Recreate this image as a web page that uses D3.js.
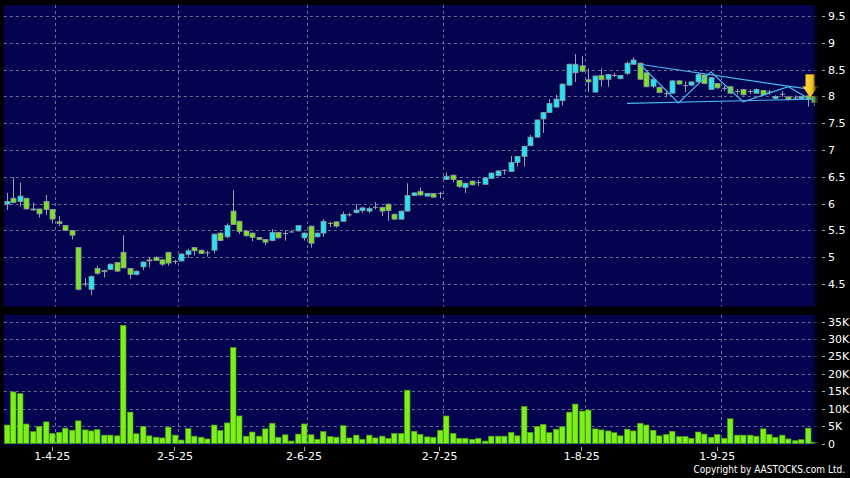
<!DOCTYPE html>
<html><head><meta charset="utf-8">
<script src="https://cdn.jsdelivr.net/npm/d3@7"></script>
<style>body{margin:0;background:#000;overflow:hidden}svg{display:block}</style>
</head><body>
<svg id="chart" width="850" height="478"></svg>
<script>
const dates = [
"21-3-25","24-3-25","25-3-25","26-3-25","27-3-25","28-3-25","31-3-25",
"1-4-25","2-4-25","3-4-25","7-4-25","8-4-25","9-4-25","10-4-25","11-4-25","14-4-25","15-4-25","16-4-25","17-4-25","22-4-25","23-4-25","24-4-25","25-4-25","28-4-25","29-4-25","30-4-25",
"2-5-25","6-5-25","7-5-25","8-5-25","9-5-25","12-5-25","13-5-25","14-5-25","15-5-25","16-5-25","19-5-25","20-5-25","21-5-25","22-5-25","23-5-25","26-5-25","27-5-25","28-5-25","29-5-25","30-5-25",
"2-6-25","3-6-25","4-6-25","5-6-25","6-6-25","9-6-25","10-6-25","11-6-25","12-6-25","13-6-25","16-6-25","17-6-25","18-6-25","19-6-25","20-6-25","23-6-25","24-6-25","25-6-25","26-6-25","27-6-25","30-6-25",
"2-7-25","3-7-25","4-7-25","7-7-25","8-7-25","9-7-25","10-7-25","11-7-25","14-7-25","15-7-25","16-7-25","17-7-25","18-7-25","21-7-25","22-7-25","23-7-25","24-7-25","25-7-25","28-7-25","29-7-25","30-7-25","31-7-25",
"1-8-25","4-8-25","5-8-25","6-8-25","7-8-25","8-8-25","11-8-25","12-8-25","13-8-25","14-8-25","15-8-25","18-8-25","19-8-25","20-8-25","21-8-25","22-8-25","25-8-25","26-8-25","27-8-25","28-8-25","29-8-25",
"1-9-25","2-9-25","3-9-25","4-9-25","5-9-25","8-9-25","9-9-25","10-9-25","11-9-25","12-9-25","15-9-25","16-9-25","17-9-25","18-9-25","19-9-25","22-9-25"
];
const open = [
5.99,6.10,6.04,6.10,5.88,5.90,6.04,5.89,5.66,5.59,5.50,5.18,4.50,4.40,4.79,4.75,4.77,4.90,5.09,4.79,4.68,
4.82,4.95,5.00,4.95,5.09,4.92,4.93,5.05,5.18,5.13,5.08,5.13,5.45,5.38,5.86,5.67,5.49,
5.45,5.37,5.33,5.31,5.46,5.44,5.47,5.49,5.36,5.58,5.38,5.45,5.63,5.66,5.67,5.80,5.83,5.87,5.86,5.93,5.93,5.99,5.80,5.71,5.86,6.15,6.23,6.14,
6.19,6.19,6.45,6.53,6.43,6.30,6.42,6.39,6.36,6.47,6.52,6.62,6.60,6.77,6.88,7.08,7.24,7.58,7.70,7.80,7.92,8.21,
8.44,8.57,8.31,8.08,8.39,8.32,8.40,8.33,8.43,8.60,8.62,8.44,8.19,8.17,8.06,8.06,8.29,8.21,8.21,
8.27,8.40,8.13,8.24,8.15,8.18,8.09,8.13,8.09,8.06,8.11,8.08,7.96,8.05,7.99,7.97,7.96,8.01,8.00
];
const close = [
6.04,6.02,6.14,5.90,5.90,5.81,5.89,5.71,5.63,5.50,5.41,4.40,4.51,4.64,4.70,4.73,4.87,4.74,4.80,4.68,4.74,
4.91,4.93,4.94,4.87,4.89,4.93,5.06,5.12,5.12,5.07,5.09,5.43,5.31,5.59,5.61,5.48,5.40,
5.37,5.33,5.28,5.46,5.36,5.45,5.48,5.59,5.45,5.26,5.45,5.67,5.64,5.58,5.80,5.80,5.88,5.92,5.91,5.94,5.86,5.87,5.71,5.86,6.15,6.20,6.16,6.19,
6.12,6.20,6.51,6.45,6.32,6.38,6.35,6.40,6.48,6.57,6.61,6.63,6.77,6.88,7.07,7.24,7.56,7.70,7.87,7.95,8.23,8.60,
8.60,8.47,8.27,8.38,8.31,8.41,8.40,8.39,8.62,8.68,8.32,8.18,8.32,8.07,8.06,8.29,8.23,8.21,8.27,
8.41,8.24,8.35,8.16,8.16,8.06,8.10,8.03,8.10,8.13,8.03,8.09,8.00,8.05,7.94,7.98,8.00,7.95,7.89
];
const high = [
6.20,6.49,6.39,6.10,6.02,5.90,6.16,5.89,5.77,5.60,5.50,5.18,4.61,4.66,4.84,4.77,4.88,4.91,5.41,4.80,4.75,
4.92,5.00,5.01,4.96,5.10,4.95,5.07,5.16,5.19,5.14,5.12,5.44,5.46,5.63,6.25,5.68,5.50,
5.46,5.38,5.34,5.52,5.47,5.50,5.50,5.60,5.46,5.59,5.46,5.71,5.66,5.67,5.85,5.83,5.99,5.94,5.94,6.03,5.94,6.00,5.82,5.87,6.38,6.21,6.30,6.20,
6.20,6.22,6.58,6.54,6.44,6.39,6.43,6.44,6.49,6.58,6.62,6.64,6.89,6.89,7.08,7.28,7.57,7.71,7.95,8.03,8.24,8.61,
8.79,8.75,8.52,8.39,8.52,8.42,8.44,8.40,8.65,8.73,8.63,8.45,8.33,8.18,8.10,8.30,8.30,8.28,8.28,
8.45,8.41,8.36,8.25,8.20,8.19,8.14,8.14,8.13,8.15,8.12,8.12,8.02,8.10,8.00,8.02,8.01,8.03,8.01
];
const low = [
5.88,6.00,5.94,5.89,5.87,5.74,5.79,5.63,5.58,5.49,5.33,4.38,4.45,4.29,4.67,4.62,4.76,4.73,4.80,4.59,4.66,
4.76,4.81,4.93,4.84,4.84,4.87,4.92,4.99,5.03,5.06,5.01,5.07,5.30,5.35,5.60,5.43,5.38,
5.30,5.32,5.23,5.30,5.35,5.31,5.46,5.48,5.31,5.18,5.37,5.38,5.56,5.55,5.66,5.76,5.82,5.83,5.82,5.89,5.77,5.68,5.69,5.70,5.85,6.14,6.15,6.13,
6.11,6.10,6.44,6.40,6.29,6.20,6.34,6.33,6.35,6.46,6.51,6.54,6.59,6.69,6.69,7.07,7.23,7.32,7.69,7.79,7.83,8.20,
8.27,8.45,8.08,8.07,8.18,8.18,8.36,8.32,8.40,8.59,8.31,8.17,8.15,8.06,7.98,8.05,8.22,8.08,8.20,
8.26,8.23,8.12,8.14,8.10,8.05,8.04,8.02,8.04,8.05,8.02,8.03,7.95,7.99,7.92,7.94,7.95,7.81,7.82
];
const volume = [
5300,14800,14300,5600,3400,4900,6200,2900,3200,4400,3800,6500,3900,3600,4000,2400,2400,2200,33900,9000,2800,
4900,2200,1800,1600,4700,2400,1000,4300,2100,1800,1300,5300,3700,5900,27500,7900,2100,
3300,2100,4200,5800,1800,2500,700,2700,5600,2500,1200,3400,2000,1800,5100,1600,2400,1200,2400,1600,2100,1500,2900,2900,15300,3500,2600,1900,
1800,3800,7900,2900,1500,1500,1200,1500,700,2100,2100,2100,3200,2200,10600,3200,4900,5500,3100,4100,4800,9000,
11300,9300,9600,4200,3900,3600,3100,2200,4100,3600,5800,5300,3800,2200,2600,3500,2000,2000,1500,
3300,2700,1800,2600,1500,7100,2400,2400,2400,2100,4200,2600,1800,2400,1300,800,1100,4400,400
];
const priceTicks = [4.5,5,5.5,6,6.5,7,7.5,8,8.5,9,9.5];
const volumeTicks = [0,5000,10000,15000,20000,25000,30000,35000];
const monthTicks = ["1-4-25","2-5-25","2-6-25","2-7-25","1-8-25","1-9-25"];
// pattern annotation lines: [date, price]
const zigzag = [["14-8-25",8.60],["22-8-25",7.88],["29-8-25",8.46],["5-9-25",7.90],["16-9-25",8.18],["19-9-25",7.97]];
const upperTrend = [["14-8-25",8.60],["22-9-25",8.12]];
const lowerTrend = [["12-8-25",7.87],["22-9-25",7.95]];
const arrowAt = ["19-9-25", 7.98];

const svg = d3.select("#chart");
const L = 3.8, R = 817.4;
const pTop = 5, pBot = 306.5, vTop = 315, vBot = 445;
const x = d3.scaleBand().domain(dates).range([L, R]).paddingInner(0).paddingOuter(0);
const bw = x.bandwidth();
const xc = d => x(d) + bw / 2;
const y = d3.scaleLinear().domain([4.5, 9.5]).range([284, 16]);
const yv = d3.scaleLinear().domain([0, 35000]).range([443.5, 321.5]);

svg.append("rect").attr("width",850).attr("height",478).attr("fill","#000");
const defs = svg.append("defs");
const gr = defs.append("linearGradient").attr("id","edgeR").attr("x1",0).attr("x2",1).attr("y1",0).attr("y2",0);
gr.append("stop").attr("offset","0%").attr("stop-color","#000").attr("stop-opacity",0);
gr.append("stop").attr("offset","100%").attr("stop-color","#000").attr("stop-opacity",0.9);

function panel(top, bot) {
  svg.append("rect").attr("x", L).attr("y", top).attr("width", R - L).attr("height", bot - top).attr("fill", "#03034f");
}
panel(pTop, pBot);
panel(vTop, vBot);

const gridColor = "#6d6d9a";
svg.append("g").selectAll("line").data(priceTicks).join("line")
  .attr("x1", L).attr("x2", R).attr("y1", d => Math.round(y(d)) + 0.5).attr("y2", d => Math.round(y(d)) + 0.5)
  .attr("stroke", gridColor).attr("stroke-dasharray", "3,3").attr("stroke-width", 1);
svg.append("g").selectAll("line").data(volumeTicks.slice(1)).join("line")
  .attr("x1", L).attr("x2", R).attr("y1", d => Math.round(yv(d)) + 0.5).attr("y2", d => Math.round(yv(d)) + 0.5)
  .attr("stroke", gridColor).attr("stroke-dasharray", "3,3").attr("stroke-width", 1);
[[pTop, pBot], [vTop, vBot]].forEach(([t, b]) => {
  svg.append("g").selectAll("line").data(monthTicks).join("line")
    .attr("x1", d => Math.round(x(d) + bw) + 0.5).attr("x2", d => Math.round(x(d) + bw) + 0.5)
    .attr("y1", t).attr("y2", b)
    .attr("stroke", gridColor).attr("stroke-dasharray", "3,3").attr("stroke-width", 1);
});

// candles
const up = "#22e6f4", down = "#7de223", border = "#8e96a0", wick = "#9aa0a8";
const idx = d3.range(dates.length);
const cg = svg.append("g");
cg.selectAll("line.w").data(idx).join("line")
  .attr("x1", i => Math.round(xc(dates[i])) + 0.5).attr("x2", i => Math.round(xc(dates[i])) + 0.5)
  .attr("y1", i => y(high[i])).attr("y2", i => y(low[i]))
  .attr("stroke", wick).attr("stroke-width", 1);
cg.selectAll("rect.b").data(idx).join("rect")
  .attr("x", i => Math.round(xc(dates[i])) - 2)
  .attr("width", 5)
  .attr("y", i => y(Math.max(open[i], close[i])))
  .attr("height", i => Math.max(1, Math.abs(y(open[i]) - y(close[i]))))
  .attr("fill", i => Math.abs(close[i] - open[i]) < 0.015 ? wick : (close[i] > open[i] ? up : down))
  .attr("stroke", i => Math.abs(close[i] - open[i]) < 0.015 ? "none" : border)
  .attr("stroke-width", 0.8);

// pattern lines
const lineGen = d3.line().x(d => xc(d[0])).y(d => y(d[1]));
const patColor = "#4ab8f0";
[zigzag, upperTrend, lowerTrend].forEach(pts => {
  svg.append("path").attr("d", lineGen(pts)).attr("fill", "none").attr("stroke", patColor).attr("stroke-width", 1.2);
});

// arrow (tip at arrowAt)
const ax = xc(arrowAt[0]) + 2.5, ay = y(arrowAt[1]);
const ag = defs.append("linearGradient").attr("id","arrowG").attr("x1",0).attr("x2",1).attr("y1",0).attr("y2",0);
ag.append("stop").attr("offset","0%").attr("stop-color","#ffe65a");
ag.append("stop").attr("offset","100%").attr("stop-color","#e8a800");
svg.append("path")
  .attr("d", `M${ax-4.5},${ay-23} L${ax+4.5},${ay-23} L${ax+4.5},${ay-11} L${ax+7.5},${ay-11} L${ax},${ay} L${ax-7.5},${ay-11} L${ax-4.5},${ay-11} Z`)
  .attr("fill", "url(#arrowG)").attr("stroke", "#c88e00").attr("stroke-width", 0.6);

// volume bars
svg.append("g").selectAll("rect").data(idx).join("rect")
  .attr("x", i => Math.round(xc(dates[i])) - 2.5)
  .attr("width", 5.5)
  .attr("y", i => yv(volume[i]))
  .attr("height", i => yv(0) - yv(volume[i]))
  .attr("fill", "#7cf01a").attr("stroke", "#4f9c10").attr("stroke-width", 0.7);

svg.append("rect").attr("x", R - 5).attr("y", pTop).attr("width", 5).attr("height", pBot - pTop).attr("fill", "url(#edgeR)");
svg.append("rect").attr("x", R - 5).attr("y", vTop).attr("width", 5).attr("height", vBot - vTop).attr("fill", "url(#edgeR)");

// axes
const font = "DejaVu Sans, sans-serif";
const pa = svg.append("g").attr("transform", `translate(${R + 3.5},0)`)
  .call(d3.axisRight(y).tickValues(priceTicks).tickSize(4).tickPadding(3).tickFormat(d => String(d)));
const va = svg.append("g").attr("transform", `translate(${R + 3.5},0)`)
  .call(d3.axisRight(yv).tickValues(volumeTicks).tickSize(4).tickPadding(3).tickFormat(d => d === 0 ? "0" : (d / 1000) + "K"));
const xa = svg.append("g").attr("transform", `translate(0,${vBot + 2})`)
  .call(d3.axisBottom(x).tickValues(monthTicks).tickSize(4).tickPadding(1));
[pa, va, xa].forEach(g => {
  g.select(".domain").remove();
  g.selectAll(".tick line").attr("stroke", "#aaaaaa").attr("shape-rendering", "crispEdges");
  g.selectAll(".tick text").attr("fill", "#ffffff").style("font-family", font).style("font-size", "11px");
});
pa.selectAll(".tick line").attr("x1", 1);
va.selectAll(".tick line").attr("x1", 1);

svg.append("text").attr("x", 845).attr("y", 473).attr("text-anchor", "end")
  .attr("fill", "#ffffff").style("font-family", "DejaVu Sans Condensed, sans-serif").style("font-size", "10px")
  .text("Copyright by AASTOCKS.com Ltd.");
</script>
</body></html>
